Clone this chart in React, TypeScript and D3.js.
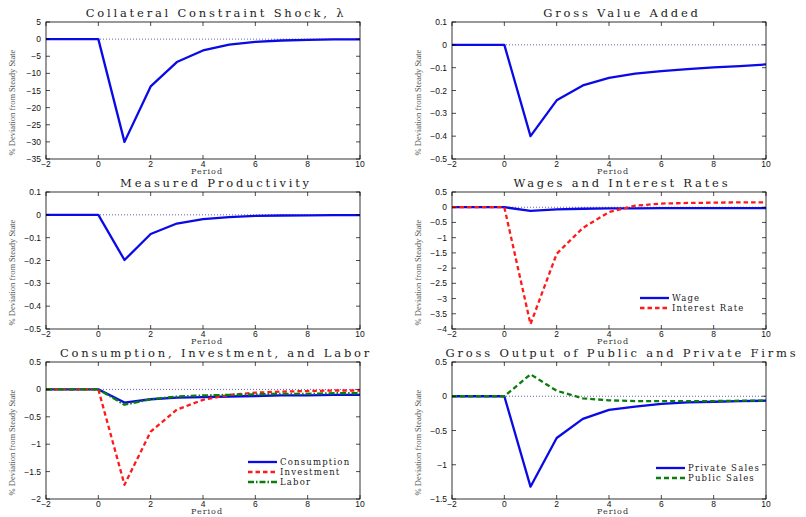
import React from 'react';
import * as d3 from 'd3';

// impulse responses, periods -2..10
const periods = [-2, -1, 0, 1, 2, 3, 4, 5, 6, 7, 8, 9, 10];
const lambdaShock = [0, 0, 0, -30, -13.8, -6.7, -3.3, -1.6, -0.8, -0.4, -0.2, -0.1, -0.05];
const grossValueAdded = [0, 0, 0, -0.4, -0.243, -0.178, -0.145, -0.126, -0.115, -0.106, -0.099, -0.093, -0.086];
const productivity = [0, 0, 0, -0.198, -0.084, -0.038, -0.019, -0.01, -0.005, -0.003, -0.002, -0.001, -0.001];
const wage = [0, 0, 0, -0.12, -0.07, -0.05, -0.04, -0.035, -0.03, -0.03, -0.03, -0.03, -0.03];
const interestRate = [0, 0, 0, -3.84, -1.53, -0.68, -0.16, 0.05, 0.12, 0.14, 0.15, 0.16, 0.16];
const consumption = [0, 0, 0, -0.24, -0.18, -0.15, -0.14, -0.13, -0.12, -0.11, -0.11, -0.1, -0.1];
const investment = [0, 0, 0, -1.74, -0.77, -0.37, -0.19, -0.1, -0.06, -0.04, -0.03, -0.02, -0.02];
const labor = [0, 0, 0, -0.28, -0.18, -0.13, -0.11, -0.1, -0.09, -0.08, -0.08, -0.07, -0.07];
const privateSales = [0, 0, 0, -1.32, -0.61, -0.33, -0.2, -0.15, -0.11, -0.09, -0.08, -0.07, -0.065];
const publicSales = [0, 0, 0, 0.32, 0.08, -0.03, -0.06, -0.07, -0.07, -0.07, -0.07, -0.065, -0.065];

const xTicks = [-2, 0, 2, 4, 6, 8, 10];
const ticksLambda = [5, 0, -5, -10, -15, -20, -25, -30, -35];
const ticksSmall = [0.1, 0, -0.1, -0.2, -0.3, -0.4, -0.5];
const ticksWages = [0.5, 0, -0.5, -1, -1.5, -2, -2.5, -3, -3.5, -4];
const ticksCIL = [0.5, 0, -0.5, -1, -1.5, -2];
const ticksOutput = [0.5, 0, -0.5, -1, -1.5];

const BLUE = '#0a0ae6';
const RED = '#ff1a1a';
const GREEN = '#0a7d0a';

type Series = { name: string; values: number[]; color: string; dash?: string };
type Panel = {
  title: string;
  col: number;
  row: number;
  yTicks: number[];
  series: Series[];
  legend?: [number, number];
};

const panels: Panel[] = [
  { title: 'Collateral Constraint Shock, λ', col: 0, row: 0, yTicks: ticksLambda,
    series: [{ name: 'lambda', values: lambdaShock, color: BLUE }] },
  { title: 'Gross Value Added', col: 1, row: 0, yTicks: ticksSmall,
    series: [{ name: 'gva', values: grossValueAdded, color: BLUE }] },
  { title: 'Measured Productivity', col: 0, row: 1, yTicks: ticksSmall,
    series: [{ name: 'tfp', values: productivity, color: BLUE }] },
  { title: 'Wages and Interest Rates', col: 1, row: 1, yTicks: ticksWages, legend: [188, 106],
    series: [
      { name: 'Wage', values: wage, color: BLUE },
      { name: 'Interest Rate', values: interestRate, color: RED, dash: '4.5,3' },
    ] },
  { title: 'Consumption, Investment, and Labor', col: 0, row: 2, yTicks: ticksCIL, legend: [202, 100],
    series: [
      { name: 'Consumption', values: consumption, color: BLUE },
      { name: 'Investment', values: investment, color: RED, dash: '4.5,3' },
      { name: 'Labor', values: labor, color: GREEN, dash: '6,2,1.5,2' },
    ] },
  { title: 'Gross Output of Public and Private Firms', col: 1, row: 2, yTicks: ticksOutput, legend: [204, 106],
    series: [
      { name: 'Private Sales', values: privateSales, color: BLUE },
      { name: 'Public Sales', values: publicSales, color: GREEN, dash: '5,3' },
    ] },
];

const colLeft = [46, 452];
const rowTop = [22, 192, 362];
const boxW = 314;
const boxH = 137;

function PanelView({ p }: { p: Panel }) {
  const left = colLeft[p.col];
  const top = rowTop[p.row];
  const yMax = d3.max(p.yTicks) as number;
  const yMin = d3.min(p.yTicks) as number;
  const x = d3.scaleLinear().domain([-2, 10]).range([0, boxW]);
  const y = d3.scaleLinear().domain([yMin, yMax]).range([boxH, 0]);
  const line = d3.line<number>().x((_, i) => x(periods[i])).y(d => y(d));
  const tk = 4;
  return (
    <g transform={`translate(${left},${top})`}>
      <text x={boxW / 2 + 13} y={-5} textAnchor="middle" fontFamily="'DejaVu Serif', serif"
        fontSize={11.5} letterSpacing={2.8} fill="#222">{p.title}</text>
      <line x1={0} x2={boxW} y1={y(0)} y2={y(0)} stroke="#3a3aa0" strokeWidth={0.8} strokeDasharray="1,2" />
      {p.series.map(s => (
        <path key={s.name} d={line(s.values) || ''} fill="none" stroke={s.color} strokeWidth={2.3}
          strokeDasharray={s.dash} strokeLinejoin="round" />
      ))}
      <rect x={0} y={0} width={boxW} height={boxH} fill="none" stroke="#000" strokeWidth={0.8} />
      {xTicks.map(t => (
        <g key={'x' + t}>
          <line x1={x(t)} x2={x(t)} y1={boxH} y2={boxH - tk} stroke="#000" strokeWidth={0.7} />
          <line x1={x(t)} x2={x(t)} y1={0} y2={tk} stroke="#000" strokeWidth={0.7} />
          <text x={x(t)} y={boxH + 7.5} textAnchor="middle" fontFamily="'Liberation Sans', Arial, sans-serif"
            fontSize={8.5} fill="#111">{t < 0 ? '−' + Math.abs(t) : t}</text>
        </g>
      ))}
      {p.yTicks.map(t => (
        <g key={'y' + t}>
          <line x1={0} x2={tk} y1={y(t)} y2={y(t)} stroke="#000" strokeWidth={0.7} />
          <line x1={boxW} x2={boxW - tk} y1={y(t)} y2={y(t)} stroke="#000" strokeWidth={0.7} />
          <text x={-5} y={y(t) + 3} textAnchor="end" fontFamily="'Liberation Sans', Arial, sans-serif"
            fontSize={8.5} fill="#111">{t < 0 ? '−' + Math.abs(t) : t}</text>
        </g>
      ))}
      <text x={boxW / 2 + 4} y={boxH + 15} textAnchor="middle" fontFamily="'DejaVu Serif', serif"
        fontSize={8} letterSpacing={1} fill="#333">Period</text>
      <text transform={`translate(${-31},${boxH / 2 + 12}) rotate(-90)`} textAnchor="middle"
        fontFamily="'Liberation Serif', serif" fontSize={8.5} fill="#555">% Deviation from Steady State</text>
      {p.legend && p.series.map((s, i) => (
        <g key={'lg' + s.name} transform={`translate(${p.legend![0]},${p.legend![1] + i * 10})`}>
          <line x1={0} x2={29} y1={0} y2={0} stroke={s.color} strokeWidth={2.3} strokeDasharray={s.dash} />
          <text x={32} y={3} fontFamily="'DejaVu Serif', serif" fontSize={8.5} letterSpacing={1.2} fill="#222">{s.name}</text>
        </g>
      ))}
    </g>
  );
}

export default function App() {
  return (
    <svg width={806} height={517} style={{ position: 'absolute', left: 0, top: 0, background: '#fff' }}>
      {panels.map(p => <PanelView key={p.title} p={p} />)}
    </svg>
  );
}
